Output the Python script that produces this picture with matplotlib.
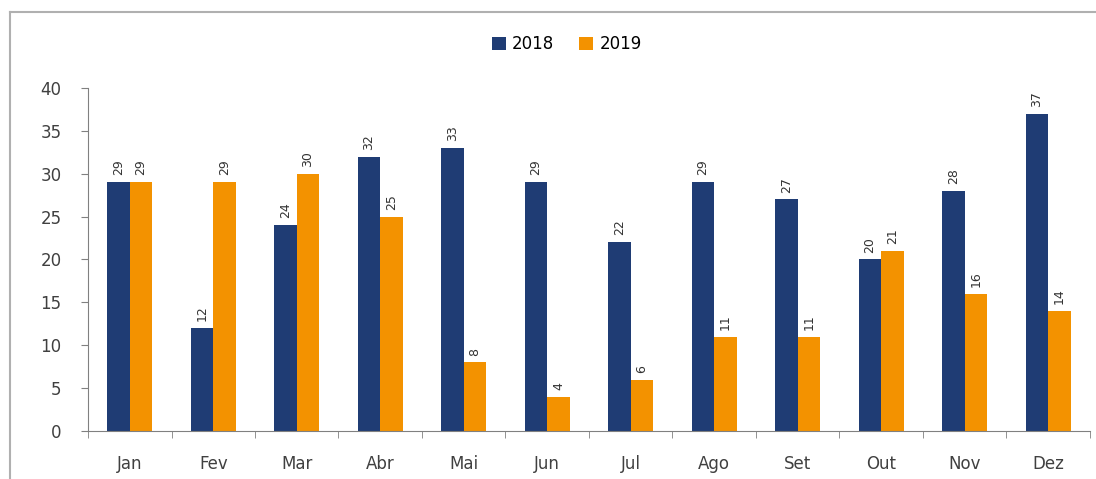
import numpy as np
import matplotlib.pyplot as plt
from matplotlib.lines import Line2D

meses = ["Jan", "Fev", "Mar", "Abr", "Mai", "Jun", "Jul", "Ago", "Set", "Out", "Nov", "Dez"]
v2018 = [29, 12, 24, 32, 33, 29, 22, 29, 27, 20, 28, 37]
v2019 = [29, 29, 30, 25, 8, 4, 6, 11, 11, 21, 16, 14]

cor2018 = "#1f3c74"
cor2019 = "#f39200"

fig = plt.figure(figsize=(10.96, 4.79), dpi=100)
ax = fig.add_axes([0.0803, 0.1002, 0.9142, 0.7161])

x = np.arange(len(meses))
w = 0.27
b1 = ax.bar(x - w / 2, v2018, w, color=cor2018, label="2018")
b2 = ax.bar(x + w / 2, v2019, w, color=cor2019, label="2019")

for bars in (b1, b2):
    for r in bars:
        ax.text(r.get_x() + r.get_width() / 2, r.get_height() + 0.8, str(int(r.get_height())),
                rotation=90, ha="center", va="bottom", fontsize=9, color="#333333")

ax.set_xlim(-0.5, len(meses) - 0.5)
ax.set_ylim(0, 40)
ax.set_yticks(range(0, 41, 5))
ax.set_xticks(x)
ax.set_xticklabels(meses, fontsize=12, color="#404040")
ax.set_xticks(np.arange(-0.5, len(meses), 1), minor=True)
ax.tick_params(axis="x", which="major", length=0, pad=17)
ax.tick_params(axis="x", which="minor", length=5, direction="out", color="#808080")
ax.tick_params(axis="y", length=5, direction="out", color="#808080", labelsize=12, labelcolor="#404040", pad=14)
for s in ("top", "right"):
    ax.spines[s].set_visible(False)
for s in ("left", "bottom"):
    ax.spines[s].set_color("#808080")

ax.legend(loc="center", bbox_to_anchor=(0.478, 1.128), ncol=2, frameon=False,
          fontsize=12, handlelength=0.8, handleheight=0.8, columnspacing=1.5, handletextpad=0.4)

# moldura
fig.add_artist(Line2D([10 / 1096, 10 / 1096], [0, 1 - 12 / 479], color="#b0b0b0", lw=1.5))
fig.add_artist(Line2D([10 / 1096, 1], [1 - 12 / 479, 1 - 12 / 479], color="#b0b0b0", lw=1.5))

fig.savefig("out.png", dpi=100)
